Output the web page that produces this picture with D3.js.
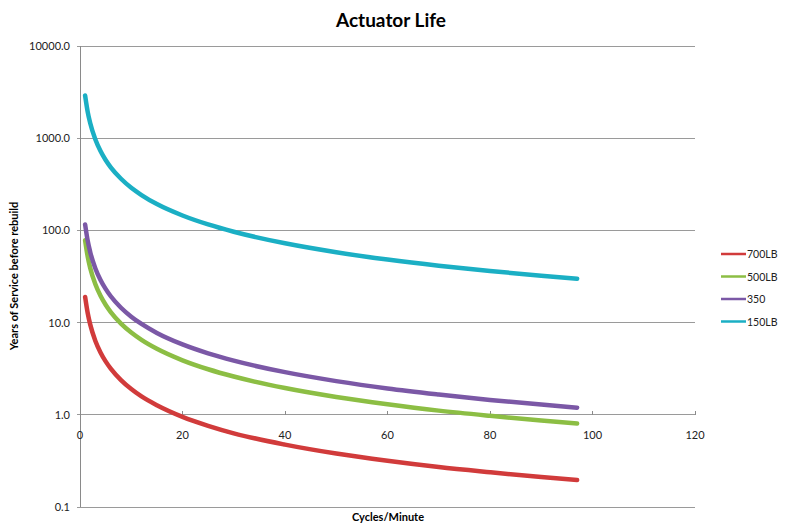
<!DOCTYPE html>
<html><head><meta charset="utf-8">
<script src="https://cdnjs.cloudflare.com/ajax/libs/d3/7.8.5/d3.min.js"></script>
<style>body{margin:0;background:#fff}svg{display:block;font-family:Lato,"Open Sans",sans-serif}</style>
</head><body><svg id="c" width="785" height="529"></svg>
<script>
const xVals = [1, 1.5, 2, 3, 4, 5, 6, 8, 10, 12, 15, 20, 25, 30, 40, 50, 60, 70, 80, 90, 97];
const s700 = [19, 12.7, 9.5, 6.33, 4.75, 3.8, 3.17, 2.38, 1.9, 1.58, 1.27, 0.95, 0.76, 0.63, 0.475, 0.38, 0.317, 0.271, 0.238, 0.211, 0.196];
const s500 = [78, 52, 39, 26, 19.5, 15.6, 13, 9.75, 7.8, 6.5, 5.2, 3.9, 3.12, 2.6, 1.95, 1.56, 1.3, 1.11, 0.975, 0.867, 0.804];
const s350 = [116, 77.3, 58, 38.7, 29, 23.2, 19.3, 14.5, 11.6, 9.67, 7.73, 5.8, 4.64, 3.87, 2.9, 2.32, 1.93, 1.66, 1.45, 1.29, 1.196];
const s150 = [2900, 1933, 1450, 967, 725, 580, 483, 363, 290, 242, 193, 145, 116, 96.7, 72.5, 58, 48.3, 41.4, 36.3, 32.2, 29.9];
const seriesNames = ["700LB", "500LB", "350", "150LB"];
const xTicks = [0, 20, 40, 60, 80, 100, 120];
const yTicks = [0.1, 1, 10, 100, 1000, 10000];

const colors = ["#D13B3B", "#8CBE44", "#7B58A6", "#1BAFC4"];
const series = [s700, s500, s350, s150];

const svg = d3.select("#c");
const x = d3.scaleLinear().domain([0, 120]).range([80, 695]);
const y = d3.scaleLog().domain([0.1, 10000]).range([507, 46]);

// gridlines
svg.append("g").selectAll("line").data(yTicks).join("line")
  .attr("x1", 77).attr("x2", 695)
  .attr("y1", d => y(d)).attr("y2", d => y(d))
  .attr("stroke", "#9a9a9a").attr("stroke-width", 1).attr("shape-rendering", "crispEdges");

// y axis line
svg.append("line").attr("x1", 80).attr("x2", 80).attr("y1", y(10000)).attr("y2", y(0.1))
  .attr("stroke", "#8a8a8a").attr("shape-rendering", "crispEdges");

// y tick labels
svg.append("g").selectAll("text").data(yTicks).join("text")
  .attr("x", 70).attr("y", d => y(d) + 4).attr("text-anchor", "end")
  .attr("font-size", 11).attr("fill", "#222").text(d => d3.format(".1f")(d));

// x axis at y=1
const xAxisY = y(1);
svg.append("g").selectAll("line").data(xTicks).join("line")
  .attr("x1", d => x(d)).attr("x2", d => x(d)).attr("y1", xAxisY).attr("y2", xAxisY - 4)
  .attr("stroke", "#8a8a8a").attr("shape-rendering", "crispEdges");
svg.append("g").selectAll("text").data(xTicks).join("text")
  .attr("x", d => x(d)).attr("y", xAxisY + 24).attr("text-anchor", "middle")
  .attr("font-size", 11).attr("fill", "#222").text(d => d);

// lines
const line = d3.line().x((d, i) => x(xVals[i])).y(d => y(d)).curve(d3.curveMonotoneX);
svg.append("g").selectAll("path").data(series).join("path")
  .attr("d", d => line(d)).attr("fill", "none")
  .attr("stroke", (d, i) => colors[i]).attr("stroke-width", 4.5).attr("stroke-linecap", "round");

// title
svg.append("text").attr("x", 391).attr("y", 27).attr("text-anchor", "middle")
  .attr("font-size", 19).attr("font-weight", "bold").attr("fill", "#000").text("Actuator Life");
// axis titles
svg.append("text").attr("x", 388).attr("y", 521).attr("text-anchor", "middle")
  .attr("font-size", 11).attr("font-weight", "bold").attr("fill", "#000").text("Cycles/Minute");
svg.append("text").attr("transform", "translate(18,276) rotate(-90)").attr("text-anchor", "middle")
  .attr("font-size", 11).attr("font-weight", "bold").attr("fill", "#000").text("Years of Service before rebuild");

// legend
const lg = svg.append("g").selectAll("g").data(seriesNames).join("g")
  .attr("transform", (d, i) => `translate(721,${254 + i * 22.5})`);
lg.append("line").attr("x1", 0).attr("x2", 25).attr("y1", 0).attr("y2", 0)
  .attr("stroke", (d, i) => colors[i]).attr("stroke-width", 2.5);
lg.append("text").attr("x", 26).attr("y", 4).attr("font-size", 10.5).attr("fill", "#222").text(d => d);
</script></body></html>
